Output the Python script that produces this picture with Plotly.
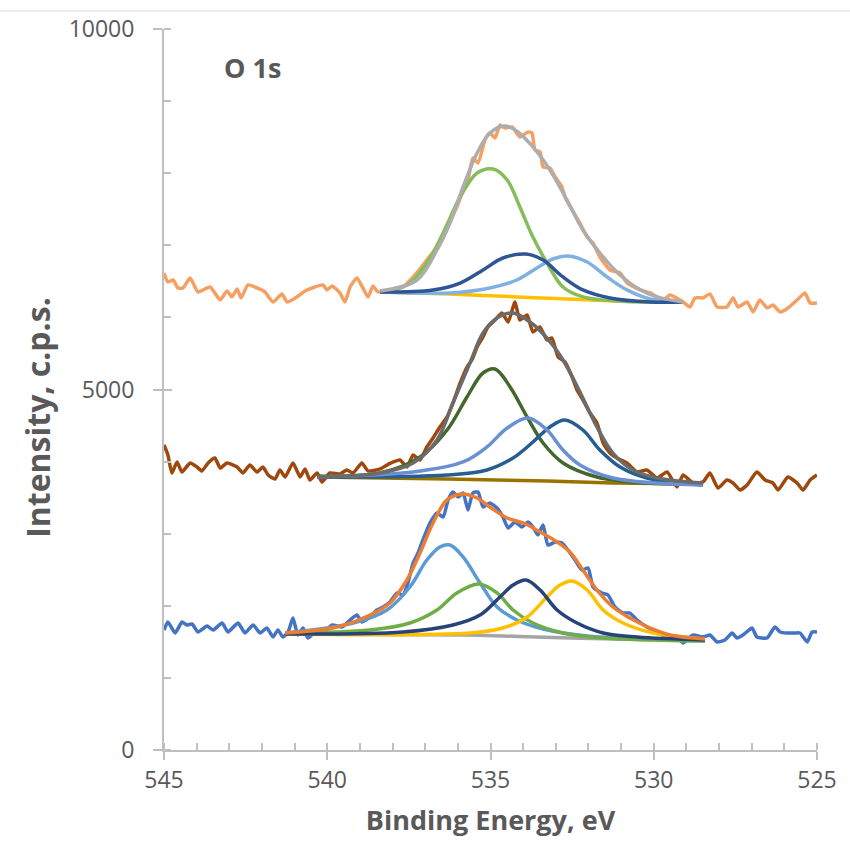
import plotly.graph_objects as go

# ---------------- data ----------------
# Top spectrum
top_raw_ev = [545.00, 544.88, 544.72, 544.57, 544.42, 544.20, 543.96, 543.59, 543.28, 543.07, 542.92, 542.76, 542.64, 542.43, 542.15, 541.91, 541.66, 541.39, 541.23, 540.93, 540.68, 540.38, 540.13, 540.01, 539.85, 539.61, 539.46, 539.30, 539.09, 538.91, 538.75, 538.60, 538.45, 538.08, 537.68, 537.26, 536.95, 536.64, 536.33, 536.03, 535.87, 535.69, 535.54, 535.38, 535.17, 535.02, 534.86, 534.71, 534.56, 534.34, 534.10, 533.85, 533.73, 533.64, 533.48, 533.39, 533.18, 533.02, 532.81, 532.72, 532.50, 532.26, 532.04, 531.86, 531.65, 531.34, 531.03, 530.82, 530.42, 530.11, 529.72, 529.50, 529.10, 528.89, 528.74, 528.49, 528.28, 528.06, 527.76, 527.57, 527.42, 527.14, 526.96, 526.75, 526.53, 526.35, 526.13, 525.89, 525.61, 525.37, 525.21, 525.00]
top_raw_cps = [6615, 6491, 6519, 6408, 6408, 6547, 6353, 6422, 6242, 6367, 6284, 6395, 6270, 6450, 6408, 6353, 6214, 6325, 6214, 6284, 6367, 6422, 6450, 6381, 6436, 6339, 6214, 6422, 6547, 6408, 6284, 6436, 6353, 6381, 6422, 6616, 6796, 6977, 7254, 7531, 7726, 7906, 8211, 8142, 8461, 8558, 8488, 8669, 8627, 8641, 8502, 8572, 8558, 8322, 8294, 8086, 8072, 7947, 7809, 7670, 7490, 7309, 7115, 7032, 6838, 6658, 6616, 6477, 6381, 6339, 6242, 6311, 6214, 6144, 6270, 6270, 6325, 6144, 6144, 6270, 6144, 6214, 6075, 6242, 6131, 6172, 6075, 6131, 6242, 6339, 6200, 6200]

top_bg_ev = [538.38, 536.24, 534.19, 532.66, 531.13, 529.10]
top_bg_cps = [6353, 6325, 6284, 6256, 6228, 6214]

top_c1_ev = [538.38, 537.56, 536.95, 536.45, 535.93, 535.41, 534.92, 534.49, 534.10, 533.70, 533.27, 532.78, 532.17, 531.13, 529.10]
top_c1_cps = [6366, 6450, 6755, 7171, 7670, 8003, 8058, 7906, 7531, 7115, 6755, 6422, 6284, 6228, 6214]

top_c2_ev = [538.38, 536.76, 535.93, 535.23, 534.62, 533.91, 533.39, 532.78, 532.17, 531.34, 530.11, 529.13]
top_c2_cps = [6353, 6381, 6477, 6658, 6824, 6879, 6796, 6561, 6381, 6270, 6214, 6214]

top_c3_ev = [538.38, 536.24, 535.02, 534.19, 533.58, 533.09, 532.63, 532.04, 531.43, 530.82, 530.11, 529.13]
top_c3_cps = [6353, 6339, 6408, 6519, 6685, 6810, 6852, 6769, 6561, 6381, 6256, 6214]

top_env_ev = [538.38, 537.25, 536.64, 536.24, 535.84, 535.41, 535.02, 534.56, 534.16, 533.70, 533.18, 532.66, 532.17, 531.65, 531.13, 530.51, 529.90, 529.10]
top_env_cps = [6366, 6519, 6935, 7309, 7809, 8280, 8558, 8655, 8572, 8364, 8045, 7629, 7212, 6893, 6630, 6408, 6284, 6214]

# Middle spectrum
mid_raw_ev = [545.00, 544.88, 544.76, 544.60, 544.45, 544.20, 543.99, 543.84, 543.65, 543.44, 543.28, 543.07, 542.76, 542.58, 542.37, 542.15, 541.97, 541.81, 541.60, 541.45, 541.29, 541.05, 540.83, 540.68, 540.53, 540.31, 540.16, 539.92, 539.61, 539.40, 539.21, 538.94, 538.75, 538.38, 538.08, 537.77, 537.56, 537.37, 537.16, 536.95, 536.76, 536.55, 536.33, 536.15, 535.93, 535.72, 535.57, 535.41, 535.23, 535.08, 534.86, 534.65, 534.46, 534.25, 534.10, 533.88, 533.70, 533.49, 533.27, 533.12, 532.93, 532.72, 532.50, 532.35, 532.17, 531.95, 531.74, 531.55, 531.34, 531.13, 530.82, 530.51, 530.21, 529.90, 529.59, 529.29, 529.10, 528.80, 528.49, 528.28, 528.03, 527.76, 527.57, 527.36, 527.14, 526.84, 526.59, 526.35, 526.19, 525.89, 525.61, 525.43, 525.21, 525.00]
mid_raw_cps = [4230, 4092, 3842, 3995, 3856, 3981, 3925, 3870, 3981, 4050, 3911, 3981, 3925, 3842, 3953, 3856, 3925, 3814, 3759, 3884, 3787, 3981, 3787, 3898, 3745, 3842, 3717, 3842, 3828, 3884, 3842, 3981, 3870, 3898, 3975, 4022, 3925, 4092, 4022, 4203, 4328, 4480, 4619, 4813, 5090, 5312, 5409, 5590, 5728, 5867, 5964, 6061, 5936, 6214, 5964, 6033, 5798, 5867, 5687, 5714, 5451, 5382, 5173, 4993, 4855, 4674, 4535, 4258, 4119, 4050, 3981, 3856, 3884, 3773, 3856, 3648, 3814, 3703, 3720, 3842, 3634, 3745, 3703, 3606, 3676, 3856, 3745, 3703, 3606, 3787, 3703, 3606, 3745, 3814]

mid_bg_ev = [540.31, 536.33, 533.27, 531.25, 528.49]
mid_bg_cps = [3787, 3759, 3731, 3703, 3689]

mid_c1_ev = [540.31, 538.38, 537.16, 536.33, 535.72, 535.23, 534.86, 534.40, 533.88, 533.39, 532.78, 531.74, 530.21, 528.49]
mid_c1_cps = [3800, 3842, 4064, 4438, 4896, 5229, 5284, 5035, 4619, 4258, 3981, 3787, 3703, 3689]

mid_c2_ev = [540.31, 537.37, 535.84, 535.11, 534.49, 533.85, 533.27, 532.78, 532.26, 531.25, 528.49]
mid_c2_cps = [3787, 3856, 3995, 4203, 4466, 4605, 4438, 4161, 3953, 3773, 3675]

mid_c3_ev = [540.31, 536.33, 535.11, 534.31, 533.70, 533.18, 532.72, 532.17, 531.65, 531.03, 530.21, 528.49]
mid_c3_cps = [3787, 3814, 3884, 4050, 4272, 4480, 4577, 4438, 4161, 3925, 3773, 3675]

mid_env_ev = [540.31, 538.38, 537.37, 536.64, 536.15, 535.63, 535.23, 534.80, 534.31, 533.79, 533.27, 532.78, 532.26, 531.74, 531.25, 530.64, 529.90, 528.49]
mid_env_cps = [3787, 3842, 3981, 4300, 4813, 5368, 5784, 5992, 6061, 5936, 5714, 5409, 4965, 4480, 4119, 3884, 3773, 3703]

# Bottom spectrum
bot_raw_ev = [545.00, 544.88, 544.66, 544.45, 544.30, 544.14, 543.96, 543.68, 543.50, 543.22, 543.04, 542.73, 542.52, 542.27, 542.06, 541.85, 541.66, 541.51, 541.36, 541.20, 541.05, 540.90, 540.74, 540.59, 540.31, 540.13, 539.85, 539.55, 539.30, 539.09, 538.94, 538.69, 538.48, 538.29, 538.08, 537.86, 537.68, 537.53, 537.37, 537.22, 537.07, 536.85, 536.64, 536.45, 536.30, 536.15, 535.99, 535.84, 535.69, 535.54, 535.38, 535.23, 535.02, 534.80, 534.62, 534.46, 534.25, 534.04, 533.85, 533.70, 533.55, 533.39, 533.24, 533.02, 532.81, 532.63, 532.41, 532.20, 532.01, 531.86, 531.59, 531.40, 531.19, 530.94, 530.73, 530.51, 530.21, 529.90, 529.59, 529.29, 529.10, 528.80, 528.49, 528.28, 528.06, 527.82, 527.60, 527.45, 527.27, 526.99, 526.84, 526.53, 526.29, 526.13, 525.92, 525.67, 525.52, 525.30, 525.15, 525.00]
bot_raw_cps = [1664, 1775, 1623, 1775, 1734, 1748, 1637, 1720, 1664, 1761, 1637, 1761, 1623, 1734, 1623, 1692, 1567, 1664, 1567, 1637, 1831, 1595, 1692, 1553, 1664, 1623, 1734, 1706, 1803, 1872, 1775, 1845, 1942, 1983, 2053, 2178, 2150, 2316, 2594, 2732, 2913, 3149, 3287, 3232, 3468, 3578, 3509, 3565, 3329, 3565, 3578, 3371, 3426, 3357, 3232, 3079, 3162, 3093, 3162, 3093, 2982, 3121, 2843, 2885, 2871, 2774, 2635, 2497, 2524, 2261, 2178, 2150, 1983, 1900, 1900, 1803, 1706, 1637, 1567, 1567, 1484, 1595, 1567, 1595, 1498, 1526, 1623, 1553, 1595, 1692, 1567, 1553, 1706, 1637, 1623, 1623, 1623, 1498, 1637, 1637]

bot_bg_ev = [541.29, 535.63, 532.57, 528.43]
bot_bg_cps = [1609, 1595, 1553, 1512]

bot_c1_ev = [541.29, 539.21, 538.17, 537.47, 536.95, 536.55, 536.24, 535.84, 535.32, 534.80, 534.19, 533.39, 532.04, 528.43]
bot_c1_cps = [1623, 1761, 1942, 2261, 2635, 2816, 2843, 2677, 2316, 1983, 1803, 1678, 1581, 1526]

bot_c2_ev = [541.29, 538.69, 537.47, 536.64, 536.03, 535.35, 534.80, 534.31, 533.70, 532.78, 531.55, 528.43]
bot_c2_cps = [1623, 1664, 1761, 1942, 2178, 2302, 2178, 1942, 1761, 1623, 1553, 1512]

bot_c3_ev = [541.29, 537.68, 536.15, 535.32, 534.71, 534.31, 533.91, 533.48, 532.96, 532.35, 531.55, 530.51, 528.43]
bot_c3_cps = [1609, 1637, 1734, 1872, 2122, 2288, 2358, 2219, 1942, 1761, 1623, 1567, 1526]

bot_c4_ev = [541.29, 535.63, 534.62, 533.88, 533.27, 532.87, 532.50, 532.04, 531.55, 530.94, 530.02, 528.43]
bot_c4_cps = [1609, 1623, 1692, 1845, 2122, 2288, 2344, 2219, 1942, 1761, 1623, 1540]

bot_env_ev = [541.29, 539.70, 538.69, 538.08, 537.56, 537.16, 536.76, 536.33, 535.87, 535.41, 535.02, 534.49, 534.00, 533.48, 532.96, 532.57, 532.17, 531.74, 531.25, 530.73, 530.11, 529.50, 528.43]
bot_env_cps = [1623, 1706, 1872, 2039, 2358, 2732, 3149, 3468, 3551, 3495, 3371, 3218, 3149, 3024, 2885, 2746, 2497, 2219, 1983, 1831, 1692, 1595, 1540]

x_major = [545, 540, 535, 530, 525]
y_major = [0, 5000, 10000]
label_text = "O 1s"
x_title = "Binding Energy, eV"
y_title = "Intensity, c.p.s."

# ---------------- figure ----------------
FONT = "'Open Sans', Lato, sans-serif"
TXT = "#595959"
AX = "#BFBFBF"
LW = 3.5

fig = go.Figure()

def add(xs, ys, color, width=LW, smooth=0.6):
    fig.add_trace(go.Scatter(x=xs, y=ys, mode="lines",
                             line=dict(color=color, width=width, shape="spline", smoothing=smooth),
                             showlegend=False, hoverinfo="skip"))

# top
add(top_raw_ev, top_raw_cps, "#F4A063", LW, 0.5)
add(top_bg_ev, top_bg_cps, "#FFC000")
add(top_c1_ev, top_c1_cps, "#86BD5B", LW, 1.0)
add(top_c3_ev, top_c3_cps, "#7FB2E0", LW, 1.0)
add(top_c2_ev, top_c2_cps, "#2F5597", LW, 1.0)
add(top_env_ev, top_env_cps, "#ADADAD", LW, 1.0)
# middle
add(mid_raw_ev, mid_raw_cps, "#9E480E", LW, 0.5)
add(mid_bg_ev, mid_bg_cps, "#997300")
add(mid_c1_ev, mid_c1_cps, "#43682B", LW, 1.0)
add(mid_c3_ev, mid_c3_cps, "#255E91", LW, 1.0)
add(mid_c2_ev, mid_c2_cps, "#6A8FD3", LW, 1.0)
add(mid_env_ev, mid_env_cps, "#6B6B6B", LW, 1.0)
# bottom
add(bot_raw_ev, bot_raw_cps, "#4472C4", LW, 0.5)
add(bot_bg_ev, bot_bg_cps, "#A5A5A5")
add(bot_c1_ev, bot_c1_cps, "#5B9BD5", LW, 1.0)
add(bot_c2_ev, bot_c2_cps, "#70AD47", LW, 1.0)
add(bot_c4_ev, bot_c4_cps, "#FFC000", LW, 1.0)
add(bot_c3_ev, bot_c3_cps, "#264478", LW, 1.0)
add(bot_env_ev, bot_env_cps, "#ED7D31", LW, 1.0)

# dummy trace for the overlay axes (inside halves of the crossing major ticks)
fig.add_trace(go.Scatter(x=[None], y=[None], xaxis="x2", yaxis="y2",
                         showlegend=False, hoverinfo="skip"))

common_font = dict(family=FONT, size=23, color=TXT)

fig.update_layout(
    width=850, height=842,
    margin=dict(l=164, r=33, t=29, b=92),
    paper_bgcolor="white", plot_bgcolor="white",
    showlegend=False,
    xaxis=dict(range=[545, 525], tickvals=x_major, ticktext=[str(v) for v in x_major],
               showgrid=False, zeroline=False, showline=True, linecolor=AX, linewidth=2,
               ticks="outside", ticklen=8, tickwidth=2, tickcolor=AX,
               minor=dict(dtick=1, ticks="inside", ticklen=7, tickwidth=1.5, tickcolor=AX, showgrid=False),
               tickfont=common_font,
               title=dict(text="<b>" + x_title + "</b>", font=dict(family=FONT, size=27, color=TXT), standoff=18)),
    yaxis=dict(range=[0, 10000], tickvals=y_major, ticktext=[str(v) for v in y_major],
               showgrid=False, zeroline=False, showline=True, linecolor=AX, linewidth=2,
               ticks="outside", ticklen=9, tickwidth=2, tickcolor=AX,
               minor=dict(dtick=1000, ticks="inside", ticklen=7, tickwidth=1.5, tickcolor=AX, showgrid=False),
               tickfont=common_font, ticklabelstandoff=14),
    xaxis2=dict(overlaying="x", range=[545, 525], tickvals=x_major, showticklabels=False,
                showgrid=False, zeroline=False, showline=False, side="bottom",
                ticks="inside", ticklen=7, tickwidth=2, tickcolor=AX),
    yaxis2=dict(overlaying="y", range=[0, 10000], tickvals=y_major, showticklabels=False,
                showgrid=False, zeroline=False, showline=False, side="left",
                ticks="inside", ticklen=8, tickwidth=2, tickcolor=AX),
    annotations=[
        dict(text="<b>" + label_text + "</b>", xref="paper", yref="paper",
             x=0.136, y=0.946, xanchor="center", yanchor="middle", showarrow=False,
             font=dict(family=FONT, size=27, color=TXT)),
        dict(text="<b>" + y_title + "</b>", xref="paper", yref="paper", textangle=-90,
             x=-0.193, y=0.462, xanchor="center", yanchor="middle", showarrow=False,
             font=dict(family=FONT, size=32, color=TXT)),
    ],
    shapes=[dict(type="line", xref="paper", yref="paper", x0=-0.26, x1=1.06, y0=1.025, y1=1.025,
                 line=dict(color="#D9D9D9", width=1))],
)

fig.write_html("out.html")
